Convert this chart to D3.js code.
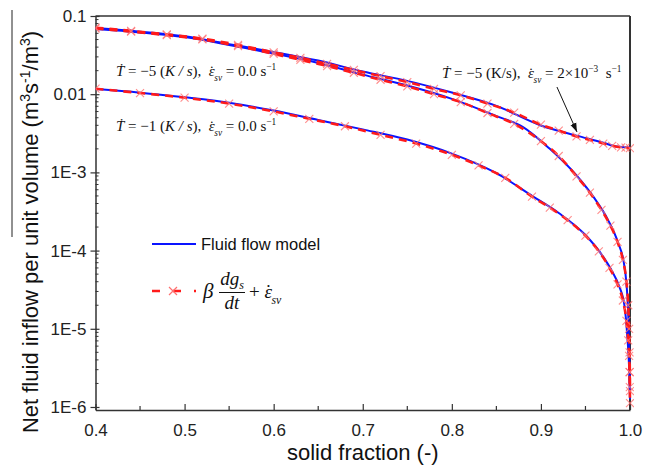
<!DOCTYPE html>
<html>
<head>
<meta charset="utf-8">
<script src="https://cdn.jsdelivr.net/npm/d3@7"></script>
<style>
  body { margin: 0; background: #fff; }
  svg { display: block; font-family: "Liberation Sans", Arial, sans-serif; }
</style>
</head>
<body>
<svg id="chart" width="651" height="468"></svg>
<script>
// ---- axis ticks ----
const xTickValues = [0.4, 0.5, 0.6, 0.7, 0.8, 0.9, 1.0];
const xTickLabels = ["0.4", "0.5", "0.6", "0.7", "0.8", "0.9", "1.0"];
const yTickValues = [0.1, 0.01, 1e-3, 1e-4, 1e-5, 1e-6];
const yTickLabels = ["0.1", "0.01", "1E-3", "1E-4", "1E-5", "1E-6"];

// ---- fluid flow model (solid lines) ----
const modelFsCool1 = [0.40, 0.45, 0.50, 0.55, 0.60, 0.65, 0.70, 0.75, 0.80, 0.85, 0.89, 0.92, 0.95, 0.97, 0.98, 0.988, 0.994, 0.997, 0.999, 1.0];
const modelQCool1  = [0.01164, 0.01047, 0.00912, 0.00776, 0.00617, 0.00468, 0.00355, 0.00263, 0.00174, 0.000977, 0.000501, 0.000302, 0.000158, 8.3e-5, 5.4e-5, 3.47e-5, 1.9e-5, 7.9e-6, 3.2e-6, 1.26e-6];

const modelFsCool5 = [0.40, 0.45, 0.50, 0.55, 0.60, 0.65, 0.70, 0.75, 0.80, 0.85, 0.88, 0.91, 0.94, 0.96, 0.975, 0.987, 0.993, 0.996, 0.998, 0.999, 1.0];
const modelQCool5  = [0.0682, 0.0617, 0.0537, 0.0427, 0.0331, 0.0251, 0.0178, 0.0129, 0.00871, 0.00525, 0.0038, 0.002, 0.000912, 0.000468, 0.000251, 0.000123, 7.1e-5, 3.8e-5, 1.58e-5, 6.3e-6, 1.58e-6];

const modelFsCool5Strain = [0.40, 0.45, 0.50, 0.55, 0.60, 0.65, 0.70, 0.75, 0.80, 0.85, 0.90, 0.94, 0.97, 0.985, 1.0];
const modelQCool5Strain  = [0.0700, 0.0631, 0.0550, 0.0437, 0.0347, 0.0269, 0.0195, 0.0148, 0.0105, 0.00708, 0.00398, 0.00295, 0.0024, 0.00214, 0.00209];

// ---- beta*dgs/dt + strain rate (dashed lines with crosses) ----
const closedFsCool1 = [0.40, 0.45, 0.50, 0.55, 0.60, 0.64, 0.68, 0.72, 0.76, 0.80, 0.83, 0.86, 0.89, 0.91, 0.93, 0.95, 0.965, 0.977, 0.986, 0.992, 0.996, 0.998, 0.999, 0.9995, 0.9998, 1.0];
const closedQCool1  = [0.01175, 0.01035, 0.00902, 0.00759, 0.00603, 0.00484, 0.00389, 0.00302, 0.00234, 0.00168, 0.00123, 0.000851, 0.00049, 0.000355, 0.000245, 0.000155, 9.8e-5, 6.0e-5, 3.7e-5, 2.3e-5, 1.26e-5, 7.1e-6, 4.5e-6, 2.8e-6, 1.8e-6, 1.12e-6];

const closedFsCool5 = [0.40, 0.44, 0.48, 0.52, 0.56, 0.60, 0.63, 0.66, 0.69, 0.72, 0.75, 0.78, 0.81, 0.84, 0.87, 0.90, 0.92, 0.94, 0.955, 0.968, 0.978, 0.986, 0.992, 0.996, 0.998, 0.999, 0.9995, 0.9998, 1.0];
const closedQCool5  = [0.0692, 0.0631, 0.0569, 0.0501, 0.0412, 0.0327, 0.0275, 0.0229, 0.0188, 0.0153, 0.0126, 0.0100, 0.00794, 0.00575, 0.00417, 0.00251, 0.00162, 0.000891, 0.00055, 0.000331, 0.000209, 0.000129, 7.6e-5, 4.0e-5, 2.0e-5, 1.0e-5, 5.0e-6, 2.8e-6, 1.6e-6];

const closedFsCool5Strain = [0.40, 0.44, 0.48, 0.52, 0.56, 0.60, 0.63, 0.66, 0.69, 0.72, 0.75, 0.78, 0.81, 0.84, 0.87, 0.90, 0.92, 0.94, 0.955, 0.97, 0.98, 0.99, 0.995, 1.0];
const closedQCool5Strain  = [0.0708, 0.0646, 0.0582, 0.0513, 0.0427, 0.0343, 0.0292, 0.0245, 0.0204, 0.0170, 0.0143, 0.0117, 0.00966, 0.00759, 0.00582, 0.00407, 0.00343, 0.00288, 0.0026, 0.00234, 0.00219, 0.00209, 0.00207, 0.00204];

// ---- layout ----
const svg = d3.select("#chart");
const plot = { left: 95.5, right: 630, top: 16, bottom: 410 };
const yFloor = 9.15e-7;

const x = d3.scaleLinear().domain([0.4, 1.0]).range([plot.left, plot.right]);
const y = d3.scaleLog().domain([yFloor, 0.1]).range([plot.bottom, plot.top]);

const zip = (a, b) => a.map((v, i) => [v, b[i]]);

svg.append("defs").append("clipPath").attr("id", "plotClip")
  .append("rect")
  .attr("x", plot.left).attr("y", plot.top - 6)
  .attr("width", plot.right - plot.left + 4).attr("height", plot.bottom - plot.top + 6);

svg.select("defs").append("marker")
  .attr("id", "arrowHead").attr("viewBox", "0 0 10 10")
  .attr("refX", 10).attr("refY", 5)
  .attr("markerWidth", 9).attr("markerHeight", 9)
  .attr("markerUnits", "userSpaceOnUse")
  .attr("orient", "auto")
  .append("path").attr("d", "M0,1.5L10,5L0,8.5Z").attr("fill", "#111");

// ---- frame ----
const axisColor = "#333";
svg.append("line").attr("x1", plot.left).attr("x2", plot.right).attr("y1", plot.top).attr("y2", plot.top)
  .attr("stroke", axisColor).attr("stroke-width", 1.5);
svg.append("line").attr("x1", plot.right).attr("x2", plot.right).attr("y1", plot.top).attr("y2", plot.bottom)
  .attr("stroke", axisColor).attr("stroke-width", 2);

// x axis (ticks pointing inward)
const xMinor = d3.range(0.45, 1.0, 0.1);
const xAxis = d3.axisBottom(x).tickValues(xTickValues)
  .tickFormat((d, i) => xTickLabels[i]).tickSizeInner(-6).tickSizeOuter(0).tickPadding(14);
const gx = svg.append("g").attr("transform", `translate(0,${plot.bottom})`).call(xAxis);
gx.select(".domain").attr("stroke", axisColor).attr("stroke-width", 1.5);
gx.selectAll(".tick line").attr("stroke", axisColor).attr("stroke-width", 1.2);
gx.selectAll(".tick text").attr("font-size", 17).attr("fill", "#222")
  .attr("font-family", "'Liberation Sans', Arial, sans-serif");
gx.selectAll(".minor").data(xMinor).enter().append("line").attr("class", "minor")
  .attr("x1", d => x(d)).attr("x2", d => x(d)).attr("y1", 0).attr("y2", -4)
  .attr("stroke", axisColor).attr("stroke-width", 1.2);

// y axis (log)
const yAxis = d3.axisLeft(y).tickValues(yTickValues)
  .tickFormat((d, i) => yTickLabels[i]).tickSizeInner(5).tickSizeOuter(0).tickPadding(4);
const gy = svg.append("g").attr("transform", `translate(${plot.left},0)`).call(yAxis);
gy.select(".domain").attr("stroke", axisColor).attr("stroke-width", 1.5);
gy.selectAll(".tick line").attr("stroke", axisColor).attr("stroke-width", 1.2).attr("x2", -5).attr("x1", 4);
gy.selectAll(".tick text").attr("font-size", 17).attr("fill", "#222")
  .attr("font-family", "'Liberation Sans', Arial, sans-serif");
const yMinor = [];
[1e-6, 1e-5, 1e-4, 1e-3, 1e-2].forEach(dec => { for (let k = 2; k <= 9; k++) yMinor.push(dec * k); });
gy.selectAll(".minor").data(yMinor).enter().append("line").attr("class", "minor")
  .attr("x1", 0).attr("x2", 3).attr("y1", d => y(d)).attr("y2", d => y(d))
  .attr("stroke", axisColor).attr("stroke-width", 1);

// axis titles
svg.append("text").attr("x", (plot.left + plot.right) / 2).attr("y", 460)
  .attr("text-anchor", "middle").attr("font-size", 22).attr("fill", "#111")
  .text("solid fraction (-)");

const yTitle = svg.append("text")
  .attr("transform", "translate(38,232) rotate(-90)")
  .attr("text-anchor", "middle").attr("font-size", 22).attr("fill", "#111");
yTitle.append("tspan").text("Net fluid inflow per unit volume (m");
yTitle.append("tspan").attr("font-size", 14).attr("dy", -8).text("3");
yTitle.append("tspan").attr("dy", 8).text("s");
yTitle.append("tspan").attr("font-size", 14).attr("dy", -8).text("-1");
yTitle.append("tspan").attr("dy", 8).text("/m");
yTitle.append("tspan").attr("font-size", 14).attr("dy", -8).text("3");
yTitle.append("tspan").attr("dy", 8).text(")");
svg.append("line").attr("x1", 12).attr("x2", 12).attr("y1", 10).attr("y2", 237)
  .attr("stroke", "#222").attr("stroke-width", 1);

// ---- curves ----
const line = d3.line().x(d => x(d[0])).y(d => y(d[1])).curve(d3.curveMonotoneX);
const curves = svg.append("g").attr("clip-path", "url(#plotClip)");

const modelSets = [
  zip(modelFsCool1, modelQCool1),
  zip(modelFsCool5, modelQCool5),
  zip(modelFsCool5Strain, modelQCool5Strain)
];
const closedSets = [
  zip(closedFsCool1, closedQCool1),
  zip(closedFsCool5, closedQCool5),
  zip(closedFsCool5Strain, closedQCool5Strain)
];

const blue = "#0a14ff";
const red = "#ff1a1a";
const crossColor = "#ff7070";
const crossPath = "M-4,-4L4,4M-4,4L4,-4";

modelSets.forEach(pts => {
  curves.append("path").datum(pts).attr("d", line)
    .attr("fill", "none").attr("stroke", blue).attr("stroke-width", 2);
});
closedSets.forEach(pts => {
  curves.append("path").datum(pts).attr("d", line)
    .attr("fill", "none").attr("stroke", red).attr("stroke-width", 2.6)
    .attr("stroke-dasharray", "8,6");
});
closedSets.forEach(pts => {
  curves.selectAll(null).data(pts).enter().append("path")
    .attr("d", crossPath)
    .attr("transform", d => `translate(${x(d[0])},${y(d[1])})`)
    .attr("fill", "none").attr("stroke", crossColor).attr("stroke-opacity", 0.8).attr("stroke-width", 1.1);
});

// ---- math-style annotations ----
// parts: {t, i: italic, sub, sup, dot: dotted symbol (time derivative)}
function mathText(parent, px, py, size, parts, anchor) {
  const t = parent.append("text").attr("x", px).attr("y", py)
    .attr("font-family", "'Liberation Serif', 'Times New Roman', serif")
    .attr("font-size", size).attr("fill", "#111")
    .attr("text-anchor", anchor || "start")
    .style("white-space", "pre");
  let shift = 0;
  parts.forEach(p => {
    const target = p.sub ? size * 0.3 : p.sup ? -size * 0.4 : 0;
    const s = t.append("tspan").attr("dy", target - shift).text(p.t);
    shift = target;
    if (p.i) s.attr("font-style", "italic");
    if (p.sub || p.sup) s.attr("font-size", size * 0.62);
    if (p.dot) {
      // overdot for a rate quantity
      t.append("tspan").attr("dx", `${-p.dot}em`).attr("dy", 0).text("˙");
    }
  });
  return t;
}

const notes = svg.append("g");
mathText(notes, 116, 76, 15, [
  { t: "Ṫ", i: 1 }, { t: " = −5 (" }, { t: "K / s", i: 1 }, { t: "),  " },
  { t: "ε", i: 1, dot: 0.36 }, { t: "sv", i: 1, sub: 1 }, { t: " = 0.0 s" }, { t: "−1", sup: 1 }
]);
mathText(notes, 116, 131, 15, [
  { t: "Ṫ", i: 1 }, { t: " = −1 (" }, { t: "K / s", i: 1 }, { t: "),  " },
  { t: "ε", i: 1, dot: 0.36 }, { t: "sv", i: 1, sub: 1 }, { t: " = 0.0 s" }, { t: "−1", sup: 1 }
]);
mathText(notes, 442, 78, 15, [
  { t: "Ṫ", i: 1 }, { t: " = −5 (K/s),  " },
  { t: "ε", i: 1, dot: 0.36 }, { t: "sv", i: 1, sub: 1 }, { t: " = 2×10" }, { t: "−3", sup: 1 }, { t: "  s" }, { t: "−1", sup: 1 }
]);

// arrow pointing at the strained curve
svg.append("line")
  .attr("x1", x(0.918)).attr("y1", y(0.01236))
  .attr("x2", x(0.9405)).attr("y2", y(0.00329))
  .attr("stroke", "#111").attr("stroke-width", 1)
  .attr("marker-end", "url(#arrowHead)");

// ---- legend ----
const legend = svg.append("g");
legend.append("line").attr("x1", 152).attr("x2", 196).attr("y1", 244).attr("y2", 244)
  .attr("stroke", blue).attr("stroke-width", 2);
legend.append("text").attr("x", 201).attr("y", 250).attr("font-size", 16.5).attr("fill", "#111")
  .text("Fluid flow model");

legend.append("line").attr("x1", 152).attr("x2", 196).attr("y1", 291).attr("y2", 291)
  .attr("stroke", red).attr("stroke-width", 2.6).attr("stroke-dasharray", "8,13");
legend.append("path").attr("d", crossPath).attr("transform", "translate(173,291)")
  .attr("fill", "none").attr("stroke", crossColor).attr("stroke-width", 1.2);

const serif = "'Liberation Serif', 'Times New Roman', serif";
legend.append("text").attr("x", 203).attr("y", 298).attr("font-family", serif)
  .attr("font-style", "italic").attr("font-size", 21).attr("fill", "#111").text("β");
const num = legend.append("text").attr("x", 232).attr("y", 285).attr("text-anchor", "middle")
  .attr("font-family", serif).attr("font-size", 19).attr("fill", "#111");
num.append("tspan").attr("font-style", "italic").text("dg");
num.append("tspan").attr("font-style", "italic").attr("font-size", 12).attr("dy", 4).text("s");
legend.append("line").attr("x1", 219).attr("x2", 245).attr("y1", 292.5).attr("y2", 292.5)
  .attr("stroke", "#111").attr("stroke-width", 1);
legend.append("text").attr("x", 232).attr("y", 309).attr("text-anchor", "middle")
  .attr("font-family", serif).attr("font-style", "italic").attr("font-size", 19).attr("fill", "#111")
  .text("dt");
mathText(legend, 249, 298, 19, [
  { t: "+ " }, { t: "ε", i: 1, dot: 0.36 }, { t: "sv", i: 1, sub: 1 }
]);
</script>
</body>
</html>
